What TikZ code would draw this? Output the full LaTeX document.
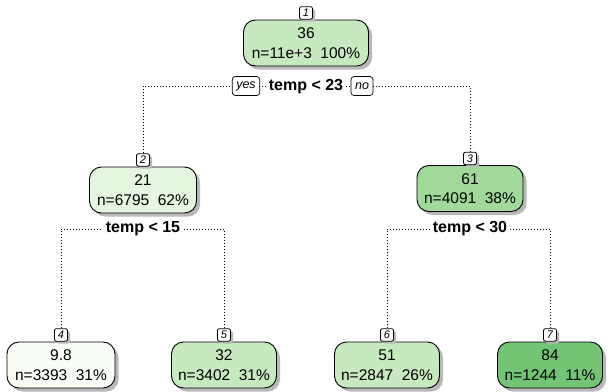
\documentclass[tikz,border=0pt]{standalone}
\usepackage{fontspec}
\setmainfont{Liberation Sans}
\usetikzlibrary{shadows,backgrounds}
\definecolor{cA}{HTML}{C7E9C0}
\definecolor{cB}{HTML}{E5F5E0}
\definecolor{cC}{HTML}{A1D99B}
\definecolor{cD}{HTML}{F7FCF5}
\definecolor{cE}{HTML}{74C476}
\tikzset{
  leafbox/.style={draw=black, line width=0.9pt, rounded corners=12pt, minimum height=46pt,
    align=center, inner sep=0pt, font=\fontsize{15.5}{19.5}\selectfont,
    drop shadow={shadow xshift=3.5pt, shadow yshift=-3.5pt, fill=black!28, opacity=1}},
  numbox/.style={draw=black, line width=0.8pt, fill=white, rounded corners=2pt, minimum width=13pt,
    minimum height=12.5pt, inner sep=0pt, anchor=south, font=\fontsize{11}{11}\itshape,
    drop shadow={shadow xshift=2.5pt, shadow yshift=-2.5pt, fill=black!28, opacity=1}},
  splitlbl/.style={fill=white, inner xsep=3pt, inner ysep=1pt, font=\fontsize{16}{16}\bfseries\selectfont},
  ynbox/.style={draw=black, line width=0.7pt, fill=white, rounded corners=3pt, minimum height=19pt,
    inner xsep=4pt, inner ysep=0pt, font=\fontsize{12.5}{12.5}\itshape\selectfont},
  dotline/.style={line width=0.9pt, dash pattern=on 0.9pt off 2.1pt}
}
\begin{document}
\begin{tikzpicture}[x=1pt,y=-1pt]
\useasboundingbox (0,0) rectangle (613,391);
% nodes
\node[leafbox, fill=cA, minimum width=125pt] (n1) at (306,43) {36\\n=11e+3\ \ 100\%};
\node[numbox] (l1) at (n1.north) {1};
\node[leafbox, fill=cB, minimum width=107pt] (n2) at (143,190) {21\\n=6795\ \ 62\%};
\node[numbox] (l2) at (n2.north) {2};
\node[leafbox, fill=cC, minimum width=106pt] (n3) at (470,188.5) {61\\n=4091\ \ 38\%};
\node[numbox] (l3) at (n3.north) {3};
\node[leafbox, fill=cD, minimum width=108pt] (n4) at (61,365) {9.8\\n=3393\ \ 31\%};
\node[numbox] (l4) at (n4.north) {4};
\node[leafbox, fill=cA, minimum width=105pt] (n5) at (224,365) {32\\n=3402\ \ 31\%};
\node[numbox] (l5) at (n5.north) {5};
\node[leafbox, fill=cA, minimum width=105pt] (n6) at (387,365) {51\\n=2847\ \ 26\%};
\node[numbox] (l6) at (n6.north) {6};
\node[leafbox, fill=cE, minimum width=105pt] (n7) at (550,365) {84\\n=1244\ \ 11\%};
\node[numbox] (l7) at (n7.north) {7};
% splits
\node[splitlbl] (s1) at (306,87) {temp < 23};
\node[ynbox] (yes) at (246,86) {yes};
\node[ynbox] (no) at (362,86) {no};
\node[splitlbl] (s2) at (143,229) {temp < 15};
\node[splitlbl] (s3) at (470,229) {temp < 30};
\coordinate (h1) at (306,86);
\coordinate (h2) at (143,229);
\coordinate (h3) at (470,229);
\begin{scope}[on background layer]
\draw[dotline] (l2.north) |- (h1) -| (l3.north);
\draw[dotline] (l4.north) |- (h2) -| (l5.north);
\draw[dotline] (l6.north) |- (h3) -| (l7.north);
\end{scope}
\end{tikzpicture}
\end{document}
